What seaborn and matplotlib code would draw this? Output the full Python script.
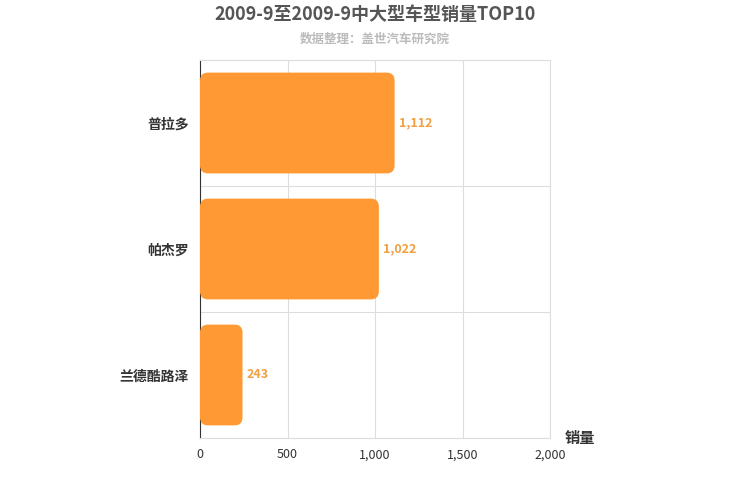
import matplotlib
matplotlib.use("Agg")
import matplotlib.pyplot as plt
import seaborn as sns
import pandas as pd
from matplotlib.patches import FancyBboxPatch

models = ["普拉多", "帕杰罗", "兰德酷路泽"]
sales = [1112, 1022, 243]
xticks = [0, 500, 1000, 1500, 2000]
xticklabels = ["0", "500", "1,000", "1,500", "2,000"]

sns.set_style("white")
plt.rcParams['font.family'] = ['Noto Sans CJK SC', 'DejaVu Sans']

fig = plt.figure(figsize=(7.5, 5), dpi=100)
ax = fig.add_axes([200/750, 1-438/500, 350/750, 378/500])
df = pd.DataFrame({"model": models, "sales": sales})
sns.barplot(data=df, x="sales", y="model", color="#FF9933", saturation=1, ax=ax, width=0.8)

ax.set_xlim(0, 2000)
ax.set_ylim(2.5, -0.5)
# rounded bars
for p in list(ax.patches):
    x, y, w, h = p.get_x(), p.get_y(), p.get_width(), p.get_height()
    fb = FancyBboxPatch((x, y), w, h, boxstyle="round,pad=0,rounding_size=46",
                        mutation_aspect=0.00137, facecolor="#FF9933", edgecolor="none", zorder=3)
    p.remove()
    ax.add_patch(fb)
for i, v in enumerate(sales):
    ax.text(v + 25, i, f"{v:,}", va="center", ha="left", color="#F0A040", fontsize=9, fontweight="bold")

ax.set_xticks(xticks)
ax.set_xticklabels(xticklabels, fontsize=9, color="#333333")
ax.set_yticks(range(len(models)))
ax.set_yticklabels(models, fontsize=10, fontweight="bold", color="#333333")
ax.tick_params(axis="y", length=0, pad=8)
ax.set_yticks([-0.5, 0.5, 1.5, 2.5], minor=True)
ax.tick_params(axis="y", which="minor", length=5, color="#333333")
ax.tick_params(axis="x", length=4, color="#cccccc")
ax.grid(axis="x", color="#dddddd", lw=0.8, zorder=0)
ax.grid(axis="y", which="minor", color="#dddddd", lw=0.8, zorder=0)
ax.set_axisbelow(True)
for s in ["top", "right", "bottom"]:
    ax.spines[s].set_color("#dddddd")
ax.spines["left"].set_color("#333333")
ax.set_xlabel("")
ax.set_ylabel("")
fig.text(580/750, 1-438/500, "销量", fontsize=11, fontweight="bold", color="#333333", ha="center", va="center")

fig.text(0.5, 1-14/500, "2009-9至2009-9中大型车型销量TOP10", ha="center", va="center",
         fontsize=13, fontweight="bold", color="#555555")
fig.text(0.5, 1-39/500, "数据整理：盖世汽车研究院", ha="center", va="center",
         fontsize=9, fontweight="bold", color="#bbbbbb")
fig.savefig("out.png", dpi=100)
